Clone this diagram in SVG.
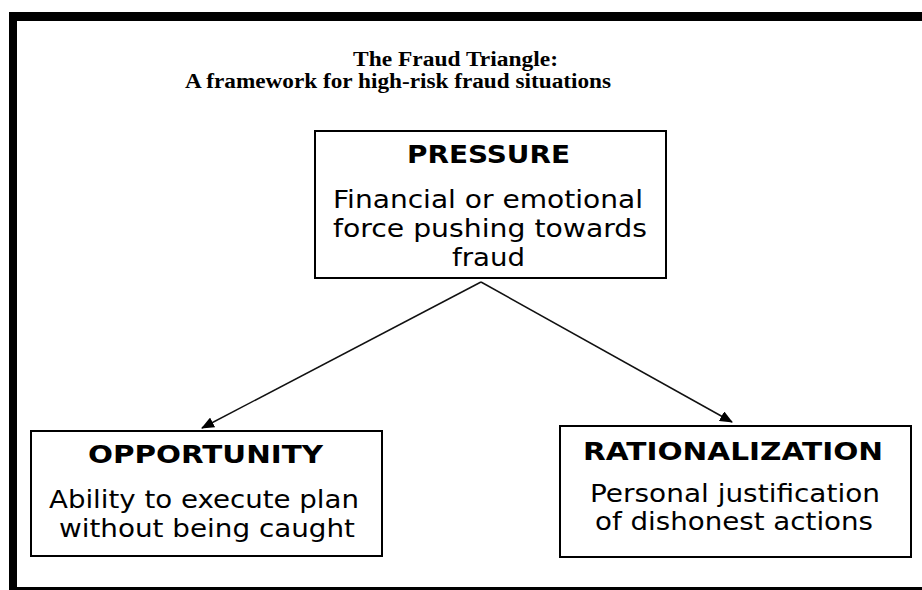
<svg xmlns="http://www.w3.org/2000/svg" width="922" height="590" viewBox="0 0 922 590">
<style>
.box{fill:#fff;stroke:#000;stroke-width:2}
.title{font-family:"Liberation Serif","Times New Roman",serif;font-weight:bold;font-size:20px;fill:#000}
.head{font-family:"DejaVu Sans",Verdana,sans-serif;font-weight:bold;font-size:24px;fill:#000}
.body{font-family:"DejaVu Sans",Verdana,sans-serif;font-size:25px;fill:#000}
.conn{stroke:#111;stroke-width:1.5;fill:none}
</style>
<defs>
<marker id="arr" markerWidth="13" markerHeight="11" refX="12" refY="5.5" orient="auto" markerUnits="userSpaceOnUse">
<path d="M0,0 L13,5.5 L0,11 Z" fill="#000"/>
</marker>
</defs>
<rect x="0" y="0" width="922" height="590" fill="#fff"/>
<g id="frame">
<rect x="9" y="12" width="913" height="9" fill="#000"/>
<rect x="9" y="12" width="8" height="578" fill="#000"/>
<rect x="9" y="587" width="913" height="3" fill="#000"/>
</g>
<g id="title">
<text class="title" x="353" y="66" textLength="205" lengthAdjust="spacingAndGlyphs">The Fraud Triangle:</text>
<text class="title" x="185" y="88" textLength="426" lengthAdjust="spacingAndGlyphs">A framework for high-risk fraud situations</text>
</g>
<g id="connectors">
<line class="conn" x1="481" y1="282" x2="202" y2="428" marker-end="url(#arr)"/>
<line class="conn" x1="481" y1="282" x2="732" y2="422" marker-end="url(#arr)"/>
</g>
<g id="pressure">
<rect class="box" x="315" y="131" width="351" height="147"/>
<text class="head" x="407" y="163" textLength="163" lengthAdjust="spacingAndGlyphs">PRESSURE</text>
<text class="body" x="333" y="208" textLength="310" lengthAdjust="spacingAndGlyphs">Financial or emotional</text>
<text class="body" x="333" y="237" textLength="314" lengthAdjust="spacingAndGlyphs">force pushing towards</text>
<text class="body" x="452" y="266" textLength="73" lengthAdjust="spacingAndGlyphs">fraud</text>
</g>
<g id="opportunity">
<rect class="box" x="31" y="431" width="351" height="125"/>
<text class="head" x="88" y="463" textLength="235" lengthAdjust="spacingAndGlyphs">OPPORTUNITY</text>
<text class="body" x="49" y="508" textLength="310" lengthAdjust="spacingAndGlyphs">Ability to execute plan</text>
<text class="body" x="59" y="537" textLength="296" lengthAdjust="spacingAndGlyphs">without being caught</text>
</g>
<g id="rationalization">
<rect class="box" x="560" y="426" width="351" height="131"/>
<text class="head" x="583" y="460" textLength="300" lengthAdjust="spacingAndGlyphs">RATIONALIZATION</text>
<text class="body" x="590" y="502" textLength="290" lengthAdjust="spacingAndGlyphs">Personal justification</text>
<text class="body" x="595" y="530" textLength="278" lengthAdjust="spacingAndGlyphs">of dishonest actions</text>
</g>
</svg>
